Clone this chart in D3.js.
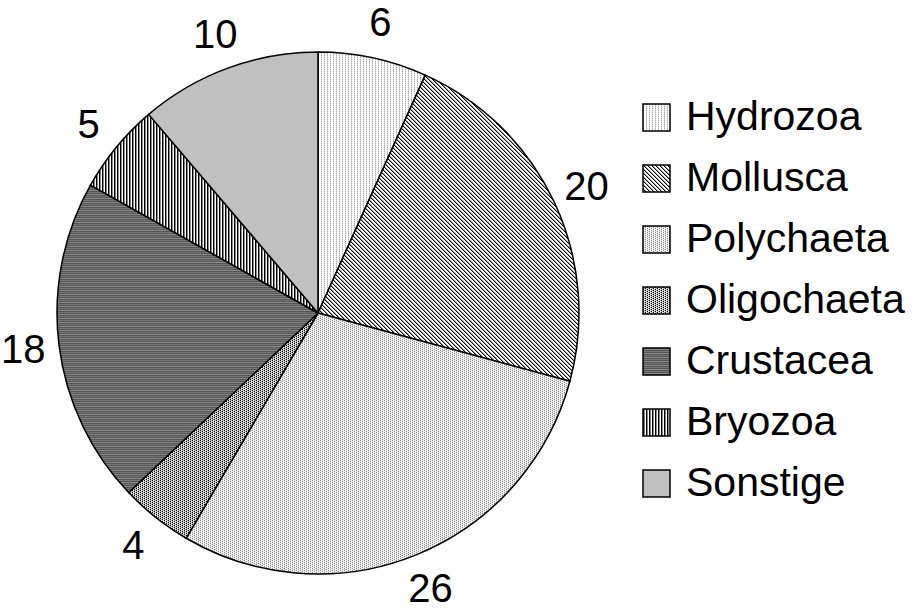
<!DOCTYPE html>
<html>
<head>
<meta charset="utf-8">
<script src="https://cdn.jsdelivr.net/npm/d3@7"></script>
<style>
  body { margin: 0; background: #fff; }
  text { font-family: "Liberation Sans", Arial, sans-serif; fill: #000; }
</style>
</head>
<body>
<div id="chart"></div>
<script>
// Chart data
var categories = ["Hydrozoa", "Mollusca", "Polychaeta", "Oligochaeta", "Crustacea", "Bryozoa", "Sonstige"];
var values = [6, 20, 26, 4, 18, 5, 10];

var width = 914;
var height = 609;
var cx = 318, cy = 313;
var radius = 261;

var svg = d3.select("#chart")
  .append("svg")
  .attr("width", width)
  .attr("height", height);

svg.append("rect").attr("width", width).attr("height", height).attr("fill", "#fff");

// Fill patterns, one per category (pixel tiles)
var defs = svg.append("defs");
var tiles = [
  { w: 3, h: 2, bg: "#fff", px: [[0, 0, "#aaa"], [0, 1, "#d8d8d8"]] },
  { w: 4, h: 4, bg: "#fff", px: [[0, 0, "#000"], [1, 1, "#000"], [2, 2, "#000"], [3, 3, "#000"], [1, 0, "#999"], [2, 1, "#999"], [3, 2, "#999"], [0, 3, "#999"]] },
  { w: 4, h: 2, bg: "#e8e8e8", px: [[0, 0, "#8c8c8c"], [2, 1, "#8c8c8c"], [1, 0, "#fff"], [3, 1, "#fff"]] },
  { w: 4, h: 2, bg: "#b0b0b0", px: [[0, 0, "#000"], [2, 1, "#000"], [1, 0, "#fff"], [3, 1, "#fff"]] },
  { w: 1, h: 4, bg: "#555", px: [[0, 1, "#8a8a8a"], [0, 3, "#777"]] },
  { w: 3, h: 1, bg: "#fff", px: [[0, 0, "#000"], [1, 0, "#888"]] },
  { w: 1, h: 1, bg: "#c0c0c0", px: [] }
];

tiles.forEach(function (t, i) {
  var p = defs.append("pattern")
    .attr("id", "pat" + i)
    .attr("patternUnits", "userSpaceOnUse")
    .attr("width", t.w)
    .attr("height", t.h);
  p.append("rect").attr("width", t.w).attr("height", t.h).attr("fill", t.bg);
  t.px.forEach(function (q) {
    p.append("rect").attr("x", q[0]).attr("y", q[1]).attr("width", 1).attr("height", 1).attr("fill", q[2]);
  });
});

var pie = d3.pie().sort(null).value(function (d) { return d; });
var arcs = pie(values);

var arc = d3.arc().innerRadius(0).outerRadius(radius);
var labelArc = d3.arc().innerRadius(297).outerRadius(297);

var g = svg.append("g").attr("transform", "translate(" + cx + "," + cy + ")");

// Slices
g.selectAll("path.slice")
  .data(arcs)
  .enter().append("path")
  .attr("class", "slice")
  .attr("d", arc)
  .attr("fill", function (d, i) { return "url(#pat" + i + ")"; })
  .attr("stroke", "#000")
  .attr("stroke-width", 1.5)
  .attr("stroke-linejoin", "round");

// Value labels outside the pie
g.selectAll("text.val")
  .data(arcs)
  .enter().append("text")
  .attr("class", "val")
  .attr("transform", function (d) { return "translate(" + labelArc.centroid(d) + ")"; })
  .attr("text-anchor", "middle")
  .attr("dy", "0.34em")
  .style("font-size", "40px")
  .text(function (d) { return d.data; });

// Legend
var legend = svg.selectAll(".legend")
  .data(categories)
  .enter().append("g")
  .attr("class", "legend")
  .attr("transform", function (d, i) { return "translate(643," + (104 + i * 61) + ")"; });

legend.append("rect")
  .attr("width", 27)
  .attr("height", 27)
  .attr("fill", function (d, i) { return "url(#pat" + i + ")"; })
  .attr("stroke", "#000")
  .attr("stroke-width", 1.5);

legend.append("text")
  .attr("x", 43)
  .attr("y", 26)
  .style("font-size", "41px")
  .text(function (d) { return d; });
</script>
</body>
</html>
